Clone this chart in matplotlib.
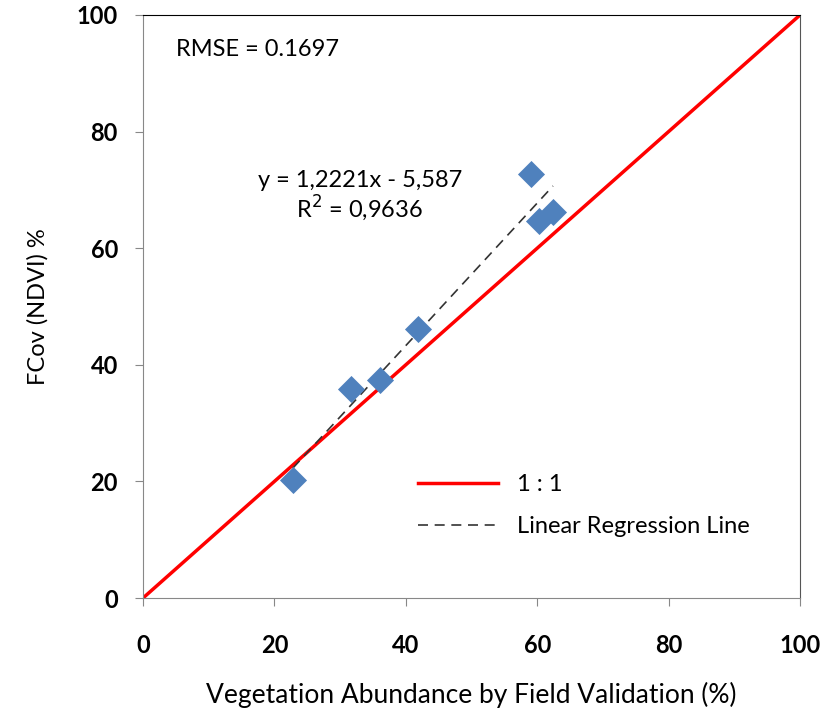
import matplotlib.pyplot as plt

# field validation vs NDVI fractional cover (%)
field = [22.8, 31.7, 36.0, 41.8, 59.1, 60.2, 62.4]
fcov = [20.2, 35.8, 37.4, 46.1, 72.7, 64.7, 66.2]
one_to_one = [0, 100]
slope, intercept = 1.2221, -5.587
ticks = [0, 20, 40, 60, 80, 100]

plt.rcParams['font.family'] = ['Lato', 'DejaVu Sans']

fig = plt.figure(figsize=(8.36, 7.12), dpi=100)
ax = fig.add_axes([0.171, 0.160, 0.786, 0.819])

ax.plot(one_to_one, one_to_one, color='#ff0000', lw=2.5, label='1 : 1', zorder=2)
xr = [min(field), max(field)]
ax.plot(xr, [slope * v + intercept for v in xr], color='#333333', lw=1.2,
        ls=(0, (6, 4)), label='Linear Regression Line', zorder=3)
ax.scatter(field, fcov, marker='D', s=190, color='#4f81bd', zorder=4,
           linewidths=0)

ax.set_xlim(0, 100)
ax.set_ylim(0, 100)
ax.set_xticks(ticks)
ax.set_yticks(ticks)
ax.tick_params(direction='out', length=6, color='#888888', labelsize=17)
ax.tick_params(axis='x', pad=20)
ax.tick_params(axis='y', pad=12)
for lab in ax.get_xticklabels() + ax.get_yticklabels():
    lab.set_fontweight('bold')

ax.spines['left'].set_color('#888888')
ax.spines['bottom'].set_color('#888888')
ax.spines['top'].set_color('black')
ax.spines['right'].set_color('#555555')

ax.set_xlabel('Vegetation Abundance by Field Validation (%)', fontsize=19, labelpad=18)
ax.set_ylabel('FCov (NDVI) %', fontsize=17, labelpad=20)

ax.text(5.0, 93.0, 'RMSE = 0.1697', fontsize=17)
ax.text(33.0, 70.5, 'y = 1,2221x - 5,587', fontsize=17, ha='center')
ax.text(33.0, 65.3, 'R$^2$ = 0,9636', fontsize=17, ha='center')

ax.legend(loc='lower left', bbox_to_anchor=(0.386, 0.068), frameon=False,
          fontsize=17, handlelength=3.4, labelspacing=0.9)

fig.savefig('out.png', dpi=100)
